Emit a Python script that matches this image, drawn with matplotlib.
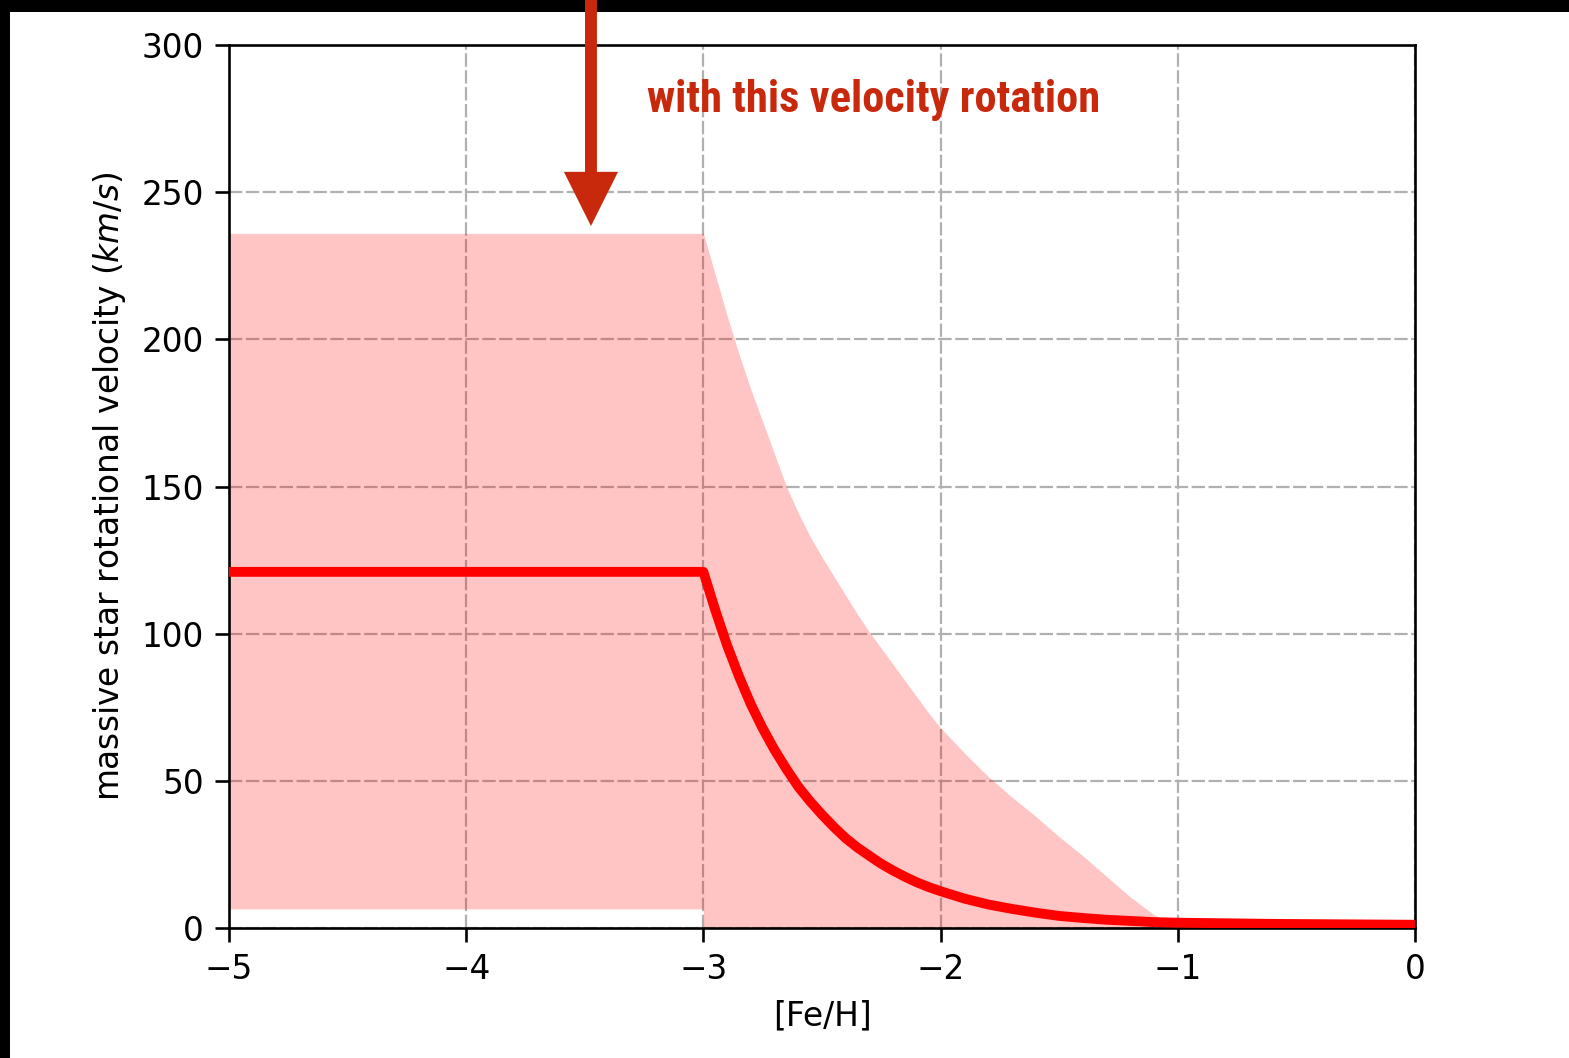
import matplotlib
matplotlib.use("Agg")
import matplotlib.pyplot as plt
from matplotlib.patches import Rectangle, FancyArrowPatch

# scale factor applied to the default matplotlib sizes
S = 2.36

# mean rotational velocity of massive stars vs metallicity
feh = [-5.0, -3.0, -2.95, -2.9, -2.85, -2.8, -2.75, -2.7, -2.65, -2.6, -2.55,
       -2.5, -2.45, -2.4, -2.35, -2.3, -2.25, -2.2, -2.15, -2.1, -2.05,
       -2.0, -1.9, -1.8, -1.7, -1.6, -1.5, -1.4, -1.3, -1.2, -1.1, -1.0,
       -0.8, -0.6, -0.4, -0.2, 0.0]
vrot = [121, 121, 108, 96, 85.5, 76, 67.8, 60.5, 54, 48, 43,
        38.5, 34.3, 30.5, 27.3, 24.5, 21.8, 19.5, 17.4, 15.5, 13.9,
        12.5, 10, 8, 6.5, 5.2, 4.1, 3.4, 2.8, 2.4, 2.0, 1.8,
        1.6, 1.4, 1.3, 1.2, 1.1]

# spread of the velocity distribution
band_feh = [-5.0, -3.0, -3.0, -2.95, -2.9, -2.85, -2.8, -2.75, -2.7, -2.65, -2.6,
            -2.55, -2.5, -2.45, -2.4, -2.35, -2.3, -2.25, -2.2, -2.15, -2.1,
            -2.05, -2.0, -1.9, -1.8, -1.7, -1.6, -1.5, -1.4, -1.3, -1.2,
            -1.1, -1.05, -1.0, -0.8, -0.6, -0.4, -0.2, 0.0]
band_low = [6.5, 6.5, 0, 0, 0, 0, 0, 0, 0, 0, 0,
            0, 0, 0, 0, 0, 0, 0, 0, 0, 0,
            0, 0, 0, 0, 0, 0, 0, 0, 0, 0,
            0, 0, 0, 0, 0, 0, 0, 0]
band_high = [236, 236, 236, 222, 208, 195, 183, 172, 161, 150, 141,
             133, 126, 119.5, 113, 106.5, 100.5, 95, 89.5, 84, 78.5,
             73, 68, 59.5, 51.5, 44.5, 38, 31, 24.5, 17.5, 10.5,
             4.5, 2.6, 1.9, 1.6, 1.4, 1.3, 1.2, 1.1]

xticks = [-5, -4, -3, -2, -1, 0]
yticks = [0, 50, 100, 150, 200, 250, 300]

note_color = '#c8280c'

plt.rcParams['font.family'] = 'DejaVu Sans'
plt.rcParams['mathtext.fontset'] = 'dejavusans'

fig = plt.figure(figsize=(15.69, 10.58), dpi=100)
ax = fig.add_axes([229 / 1569, 1 - 928 / 1058, (1415 - 229) / 1569, (928 - 45) / 1058])

ax.fill_between(band_feh, band_low, band_high, color='red', alpha=0.23,
                linewidth=0, zorder=1)
ax.plot(feh, vrot, color='red', linewidth=3.0 * S, zorder=3)

ax.set_xlim(-5, 0)
ax.set_ylim(0, 300)
ax.set_xticks(xticks)
ax.set_yticks(yticks)
ax.set_xticklabels(['\u2212%d' % abs(t) if t < 0 else str(t) for t in xticks])

ax.grid(True, color='#b0b0b0', linewidth=1.6, linestyle=(0, (6.0, 1.6)), zorder=0)
ax.set_axisbelow(True)

for sp in ax.spines.values():
    sp.set_linewidth(0.8 * S)
ax.tick_params(labelsize=10 * S, width=0.8 * S, length=10, pad=3.5 * S)

ax.set_xlabel('[Fe/H]', fontsize=10 * S, labelpad=4 * S)
ax.set_ylabel(r'massive star rotational velocity $(km/s)$', fontsize=10 * S,
              labelpad=4 * S)

# arrow pointing at the plateau value
arrow = FancyArrowPatch((-3.474, 330), (-3.474, 238.5),
                        arrowstyle='simple, head_width=3.9, head_length=3.9, tail_width=0.86',
                        mutation_scale=10, color=note_color, linewidth=0,
                        shrinkA=0, shrinkB=0, clip_on=False, zorder=5)
ax.add_patch(arrow)

ax.text(-3.238, 277.3, 'with this velocity rotation', color=note_color,
        fontsize=32, fontweight='bold',
        family=['Liberation Sans Narrow', 'Roboto Condensed', 'DejaVu Sans'],
        ha='left', va='baseline', zorder=6)

# dark frame along the top and left edges
fig.add_artist(Rectangle((0, 1 - 12 / 1058), 1, 12 / 1058, transform=fig.transFigure,
                         facecolor='black', edgecolor='none', zorder=-1))
fig.add_artist(Rectangle((0, 0), 10 / 1569, 1, transform=fig.transFigure,
                         facecolor='black', edgecolor='none', zorder=-1))

fig.savefig('out.png', dpi=100)
